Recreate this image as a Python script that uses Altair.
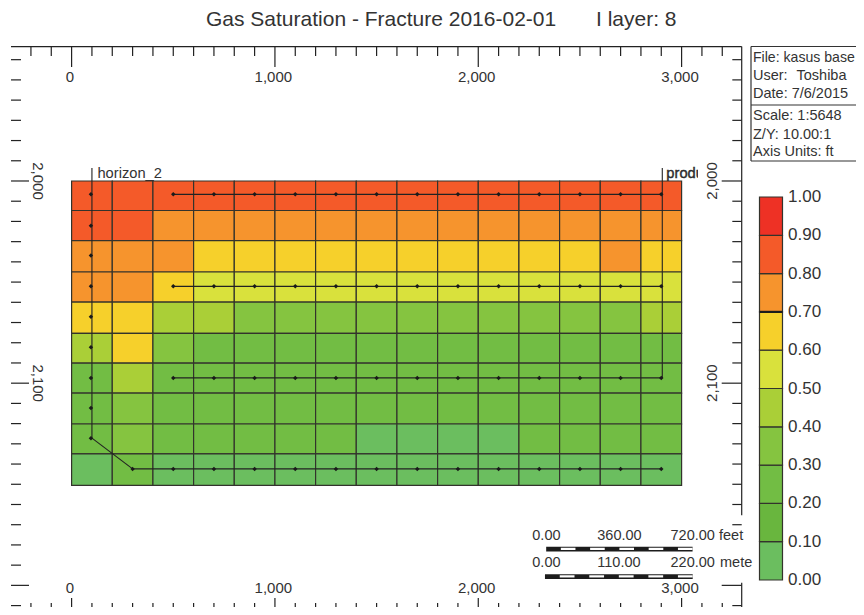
import altair as alt
import pandas as pd

FONT = "Liberation Sans"
INK = "#333333"

XDOM = [-312.8, 3857.7]
YDOM = [2210.7, 1914.44]

col_edges = list(range(0, 3001, 200))
row_edges = [2000, 2014.6, 2029.5, 2045, 2059.9, 2075.4, 2090.1, 2104.9, 2120.2, 2135, 2150.5]

saturation = [
    [.85, .85, .85, .85, .85, .85, .85, .85, .85, .85, .85, .85, .85, .85, .85],
    [.85, .85, .75, .75, .75, .75, .75, .75, .75, .75, .75, .75, .75, .75, .75],
    [.75, .75, .75, .65, .65, .65, .65, .65, .65, .65, .65, .65, .65, .75, .65],
    [.75, .75, .65, .55, .55, .55, .55, .55, .55, .55, .55, .55, .55, .55, .55],
    [.65, .65, .45, .45, .35, .35, .35, .35, .35, .35, .35, .35, .35, .35, .45],
    [.45, .65, .35, .25, .25, .25, .25, .25, .25, .25, .25, .25, .25, .25, .25],
    [.25, .45, .25, .25, .25, .25, .25, .25, .25, .25, .25, .25, .25, .25, .25],
    [.25, .35, .25, .25, .25, .25, .25, .25, .25, .25, .25, .25, .25, .25, .25],
    [.25, .35, .25, .25, .25, .25, .25, .05, .05, .05, .05, .25, .25, .25, .25],
    [.05, .25, .05, .05, .05, .05, .05, .05, .05, .05, .05, .05, .05, .05, .05],
]

thresholds = [.1, .2, .3, .4, .5, .6, .7, .8, .9]
palette = ["#6BBE5F", "#69B63E", "#72BD44", "#85C440", "#AACF37",
           "#D9E13C", "#F6D02B", "#F6942D", "#F45A29", "#EE3125"]

legend_low = [round(i / 10, 1) for i in range(10)]
legend_labels = ["0.00", "0.10", "0.20", "0.30", "0.40", "0.50", "0.60", "0.70", "0.80", "0.90", "1.00"]
legend_ticks = [round(i / 10, 1) for i in range(11)]

x_major = [0, 1000, 2000, 3000]
x_major_labels = ["0", "1,000", "2,000", "3,000"]
x_minor = [v for v in range(-200, 3201, 100) if v not in x_major]
y_major = [2000, 2100, 2200]
y_major_labels = ["2,000", "2,100"]
y_minor = [v for v in range(1940, 2211, 10) if v not in y_major]
y_minor_right = [v for v in y_minor if not 2170 < v < 2195]

well_dots_x = list(range(500, 2901, 200))
row_wells_y = [2006.6, 2052.1, 2097.4]
bottom_well_y = 2142.4
left_dots_y = [2006.6, 2022.1, 2036.9, 2052.1, 2067.1, 2082.2, 2097.4, 2112.3, 2127.2]

S_X = alt.Scale(domain=XDOM, nice=False, zero=False)
S_Y = alt.Scale(domain=YDOM, nice=False, zero=False)
S_C = alt.Scale(type="threshold", domain=thresholds, range=palette)
S_L = alt.Scale(domain=[0, 1], range=[572, 189], nice=False, zero=False)
X = lambda f="x": alt.X(f"{f}:Q", scale=S_X, axis=None)
Y = lambda f="y": alt.Y(f"{f}:Q", scale=S_Y, axis=None)


def segs(rows, **style):
    return alt.Chart(pd.DataFrame(rows, columns=["x", "x2", "y", "y2"])).mark_rule(
        color="#222222", strokeWidth=style.pop("w", 1.2), **style
    ).encode(x=X(), x2="x2:Q", y=Y(), y2="y2:Q")


def texts(xs, ys, labels, size=15, **style):
    df = pd.DataFrame({"x": xs, "y": ys, "t": labels})
    return alt.Chart(df).mark_text(font=FONT, fontSize=size, color=INK, **style).encode(
        x=X(), y=Y(), text="t:N"
    )


def note(px, py, label, size=14.5, **style):
    return alt.Chart(pd.DataFrame({"t": [label]})).mark_text(
        font=FONT, fontSize=size, color=INK, align="left", baseline="middle", **style
    ).encode(x=alt.value(px), y=alt.value(py), text="t:N")


def box(px, px2, py, py2, color="#333333", w=1.2):
    return alt.Chart(pd.DataFrame({"a": [0]})).mark_rule(color=color, strokeWidth=w).encode(
        x=alt.value(px), x2=alt.value(px2), y=alt.value(py), y2=alt.value(py2)
    )


# --- furniture through the main scales
T0, T1, T2 = 1933.5, 1938.2, 1943.6
B0, B1, B2 = 2210.7, 2208.7, 2206.2
L0, L1, L2 = -298, -248.9, -209.5
R0, R1, R2 = 3295.6, 3249.4, 3197.2

ticks = segs(
    [[v, v, T0, T1] for v in x_minor] + [[v, v, T0, T2] for v in x_major]
    + [[v, v, B0, B1] for v in x_minor] + [[v, v, B0, B2] for v in x_major]
    + [[L0, L1, v, v] for v in y_minor] + [[L0, L2, v, v] for v in y_major]
    + [[R0, R1, v, v] for v in y_minor_right] + [[R0, R2, v, v] for v in y_major]
    + [[L0, R0, T0, T0]]
    + [[R0, R0, T0, 2165.3], [R0, R0, 2198.7, B0]]
)

top_lab = texts([v - 8 for v in x_major], [1948.6] * 4, x_major_labels, baseline="middle", align="center")
bot_lab = texts([v - 8 for v in x_major], [2201.3] * 4, x_major_labels, baseline="middle", align="center")
left_lab = texts([-165, -165], y_major[:2], y_major_labels, baseline="middle", align="center", angle=90)
right_lab = texts([3148, 3148], y_major[:2], y_major_labels, baseline="middle", align="center", angle=270)

# --- well names
horizon = texts([127], [1996.6], ["horizon_2"], size=14.7, baseline="middle", align="left")
produ = texts([2925], [1996.6], ["produ"], size=14.7, baseline="middle", align="left", stroke="#222222", strokeWidth=0.4)

# --- grid
cells = pd.DataFrame(
    [
        {"x": col_edges[c], "x2": col_edges[c + 1], "y": row_edges[r], "y2": row_edges[r + 1], "v": saturation[r][c]}
        for r in range(10)
        for c in range(15)
    ]
)
grid = alt.Chart(cells).mark_rect(stroke="#33332c", strokeWidth=1.2).encode(
    x=X(), x2="x2:Q", y=Y(), y2="y2:Q", color=alt.Color("v:Q", scale=S_C, legend=None)
)

# --- wells
well_lines = segs(
    [[500, 2900, v, v] for v in row_wells_y]
    + [[300, 2900, bottom_well_y, bottom_well_y], [100, 300, 2127.2, bottom_well_y]]
    + [[100, 100, 1993.6, 2127.2], [2905, 2905, 1993.6, 2097.4]],
    w=1.1,
)
dots = pd.DataFrame(
    [{"x": x, "y": y} for y in row_wells_y + [bottom_well_y] for x in well_dots_x]
    + [{"x": 300, "y": bottom_well_y}]
    + [{"x": 95, "y": y} for y in left_dots_y]
)
well_dots = alt.Chart(dots).mark_point(filled=True, color="#1a1a1a", size=20, opacity=1, shape="diamond").encode(x=X(), y=Y())

mask = alt.Chart(pd.DataFrame({"a": [0]})).mark_rect(color="white").encode(
    x=alt.value(690), x2=alt.value(698), y=alt.value(155), y2=alt.value(172)
)

# --- scale bars
bar_feet = [2334 + 72 * k for k in range(11)]
bar_metres = [2328 + 72.66 * k for k in range(11)]


def bar(edges, y0, y1, yi0, yi1):
    solid = alt.Chart(pd.DataFrame({"x": [edges[0]], "x2": [edges[-1]], "y": [y0], "y2": [y1]})).mark_rect(
        color="#1c1c1c"
    ).encode(x=X(), x2="x2:Q", y=Y(), y2="y2:Q")
    whites = pd.DataFrame({"x": edges[1:10:2], "x2": edges[2:11:2], "y": [yi0] * 5, "y2": [yi1] * 5})
    gaps = alt.Chart(whites).mark_rect(color="white").encode(x=X(), x2="x2:Q", y=Y(), y2="y2:Q")
    return [solid, gaps]


feet_bar = bar(bar_feet, 2180.9, 2183.2, 2181.4, 2182.5)
metre_bar = bar(bar_metres, 2194.5, 2196.8, 2195, 2196.1)
bar_labels = [
    note(524.3, 527.7, "0.00"), note(589.3, 527.7, "360.00"), note(662.5, 527.7, "720.00"), note(711, 527.7, "feet"),
    note(524.3, 555, "0.00"), note(589.3, 555, "110.00"), note(662.5, 555, "220.00"), note(712, 555, "mete"),
]

# --- colour legend
leg = pd.DataFrame({"v": [v + .05 for v in legend_low], "a": legend_low, "b": [v + .1 for v in legend_low]})
legend_rect = alt.Chart(leg).mark_rect(stroke="#33332c", strokeWidth=1.2).encode(
    x=alt.value(751.5), x2=alt.value(774.5),
    y=alt.Y("a:Q", scale=S_L, axis=None), y2="b:Q",
    color=alt.Color("v:Q", scale=S_C, legend=None),
)
legend_thick = alt.Chart(pd.DataFrame({"a": [.7]})).mark_rule(color="#1c1c1c", strokeWidth=2.2).encode(
    x=alt.value(751.5), x2=alt.value(774.5), y=alt.Y("a:Q", scale=S_L, axis=None)
)
legend_text = alt.Chart(pd.DataFrame({"a": legend_ticks, "t": legend_labels})).mark_text(
    font=FONT, fontSize=17, color=INK, align="left", baseline="middle"
).encode(x=alt.value(780), y=alt.Y("a:Q", scale=S_L, axis=None), text="t:N")

# --- title + info box
title = [
    note(198, 11.5, "Gas Saturation - Fracture 2016-02-01", size=21),
    note(588, 11.5, "I layer: 8", size=21),
]
info = [
    box(743, 848, 38.5, 38.5), box(743, 743, 38.5, 153), box(743, 848, 97, 97), box(743, 848, 153, 153),
    note(745, 50, "File: kasus base", size=14.1),
    note(745, 68, "User:"), note(788.5, 68, "Toshiba"),
    note(745, 85.5, "Date: 7/6/2015"),
    note(745, 108, "Scale: 1:5648"),
    note(745, 126.5, "Z/Y: 10.00:1"),
    note(745, 144, "Axis Units: ft"),
]

chart = alt.layer(
    ticks, top_lab, bot_lab, left_lab, right_lab, produ, grid, horizon, well_lines, well_dots, mask,
    *feet_bar, *metre_bar, *bar_labels,
    legend_rect, legend_thick, legend_text, *title, *info,
).resolve_scale(x="independent", y="independent", color="shared").properties(
    width=848, height=599, padding=0,
    autosize=alt.AutoSizeParams(type="none"),
    background="white",
).configure_view(stroke=None)

chart.save("out.html", embed_options={"renderer": "svg", "actions": False})
